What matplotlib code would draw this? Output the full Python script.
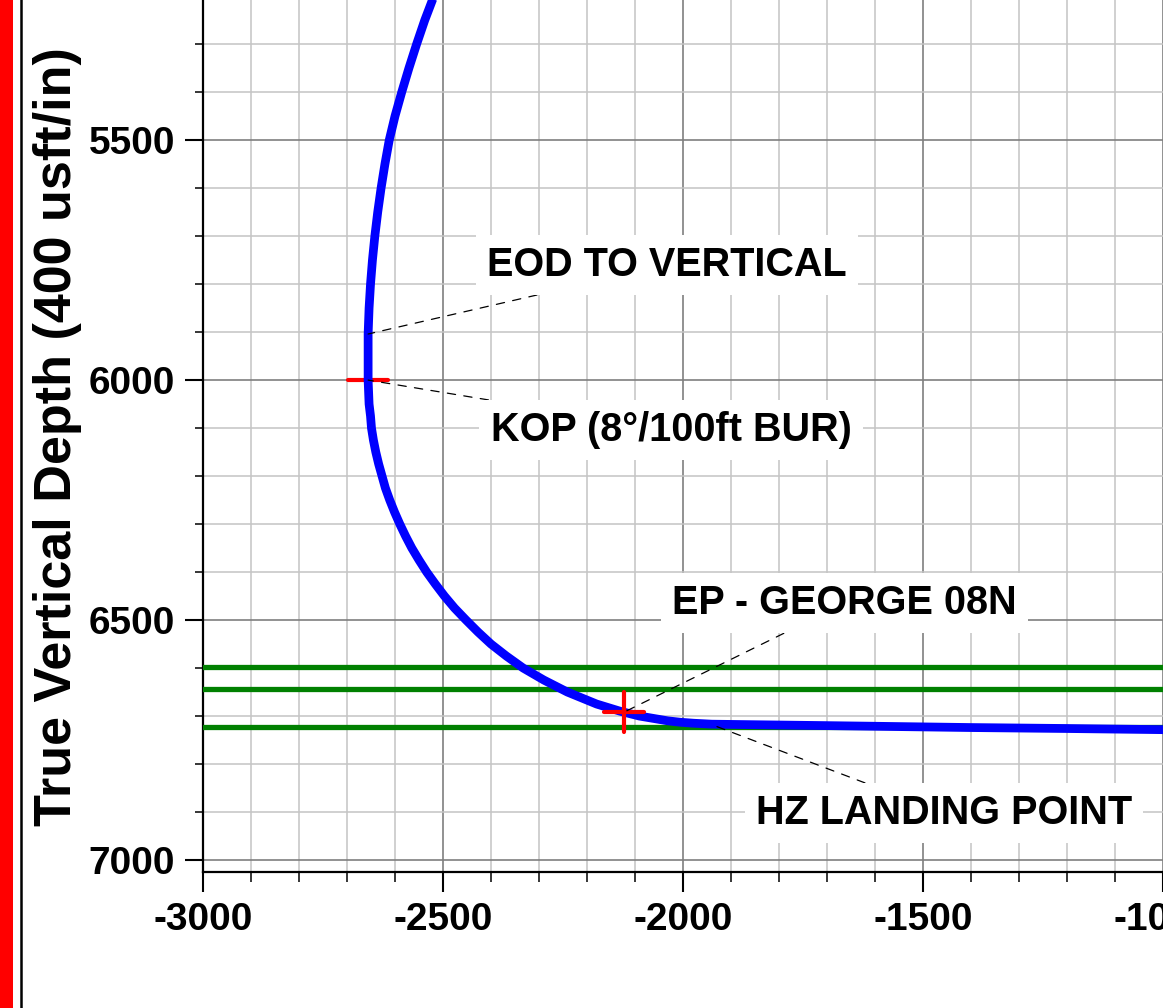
import matplotlib
matplotlib.use("Agg")
import matplotlib.pyplot as plt
from matplotlib.ticker import MultipleLocator
from matplotlib.patches import Rectangle
from matplotlib.lines import Line2D
from matplotlib.markers import MarkerStyle

plt.rcParams['font.family'] = ['Liberation Sans', 'DejaVu Sans']
plt.rcParams['lines.scale_dashes'] = False
plt.rcParams['axes.unicode_minus'] = False

# ---- data ----
well_vs = [-2499, -2522, -2538, -2555, -2571, -2586, -2600, -2612, -2621, -2629,
           -2636, -2642, -2647, -2651, -2654, -2656, -2656,
           -2655, -2654, -2651, -2649, -2645, -2640, -2634, -2627, -2620, -2611,
           -2601, -2590, -2578, -2565, -2550, -2534, -2516, -2497, -2476, -2452,
           -2427, -2400, -2368, -2333, -2290, -2241, -2180, -2131, -2091, -2032,
           -2005, -1978, -1940, -1900, -1700, -1400, -1200, -950]
well_tvd = [5150, 5208, 5250, 5300, 5350, 5400, 5450, 5500, 5550, 5600,
            5650, 5700, 5750, 5800, 5850, 5904, 6000,
            6025, 6050, 6075, 6100, 6125, 6150, 6175, 6200, 6225, 6250,
            6275, 6300, 6325, 6350, 6375, 6400, 6425, 6450, 6475, 6500,
            6525, 6550, 6575, 6600, 6625, 6650, 6675, 6690, 6700, 6710,
            6713, 6715, 6717, 6717.5, 6720, 6724, 6726, 6729]

formation_tvd = [6597, 6644, 6722]

kop_pt = (-2656, 6000)
eod_pt = (-2656, 5904)
ep_pt = (-2123, 6692)
hz_pt = (-1940, 6718)

labels = ["EOD TO VERTICAL", "KOP (8°/100ft BUR)", "EP - GEORGE 08N", "HZ LANDING POINT"]
label_anchor = [eod_pt, kop_pt, ep_pt, hz_pt]
label_pos = [(-2033, 5760), (-2025, 6104), (-1663, 6465), (-1456, 6902)]

xlim = (-3000, -1000)
ylim = (7025, 5208)
xticks_major = [-3000, -2500, -2000, -1500, -1000]
yticks_major = [5500, 6000, 6500, 7000]

# ---- figure ----
W, H = 1163, 1008
fig = plt.figure(figsize=(W / 100, H / 100), dpi=100)
ax = fig.add_axes([203 / W, (H - 872) / H, 1 - 203 / W, 872 / H])

ax.set_xlim(*xlim)
ax.set_ylim(*ylim)
ax.set_xticks(xticks_major)
ax.set_yticks(yticks_major)
ax.xaxis.set_minor_locator(MultipleLocator(100))
ax.yaxis.set_minor_locator(MultipleLocator(100))

ax.grid(which='minor', color='#c4c4c4', lw=1.1)
ax.grid(which='major', color='#7f7f7f', lw=1.2)
ax.set_axisbelow(True)

for s in ['top', 'right']:
    ax.spines[s].set_visible(False)
for s in ['left', 'bottom']:
    ax.spines[s].set_linewidth(1.6)
    ax.spines[s].set_color('black')

ax.tick_params(axis='x', which='major', direction='out', length=14.4, width=1.5,
               labelsize=28, pad=7)
ax.tick_params(axis='x', which='minor', direction='out', length=7.2, width=1.1)
ax.tick_params(axis='y', which='major', direction='out', length=13, width=1.5,
               labelsize=28, pad=7)
ax.tick_params(axis='y', which='minor', direction='out', length=6, width=1.1)
for lab in ax.get_xticklabels() + ax.get_yticklabels():
    lab.set_fontweight('bold')

# formation tops
for t in formation_tvd:
    ax.axhline(t, color='#008000', lw=3.8, zorder=3)

# KOP marker (under the well path)
cross = MarkerStyle('+', capstyle='round')
ax.plot([kop_pt[0]], [kop_pt[1]], marker=cross, color='#ff0000', ms=29,
        mew=3.0, zorder=3.5, ls='none')

# well path
ax.plot(well_vs, well_tvd, color='#0000ff', lw=6.3, zorder=4,
        solid_capstyle='butt', solid_joinstyle='round')

# EP marker (over the path)
ax.plot([ep_pt[0]], [ep_pt[1]], marker=cross, color='#ff0000', ms=29,
        mew=3.0, zorder=5, ls='none')

# annotations
for txt, a, p in zip(labels, label_anchor, label_pos):
    ax.annotate(txt, xy=a, xytext=p, ha='center', va='center', fontsize=28.5,
                fontweight='bold', zorder=6,
                bbox=dict(boxstyle='square,pad=0.28', fc='white', ec='none'),
                arrowprops=dict(arrowstyle='-', color='black', lw=0.9,
                                linestyle=(0, (6, 6)), shrinkA=0, shrinkB=0))

# y label
fig.text(58 / W, 1 - 437 / H, "True Vertical Depth (400 usft/in)", rotation=90,
         ha='center', va='center', fontsize=37.5, fontweight='bold')

# left decorations
fig.add_artist(Rectangle((0, 0), 13 / W, 1, transform=fig.transFigure,
                         color='#ff0000', lw=0))
fig.add_artist(Line2D([20.5 / W, 20.5 / W], [0, 1], transform=fig.transFigure,
                      color='black', lw=1.8))

fig.savefig('out.png', dpi=100)
